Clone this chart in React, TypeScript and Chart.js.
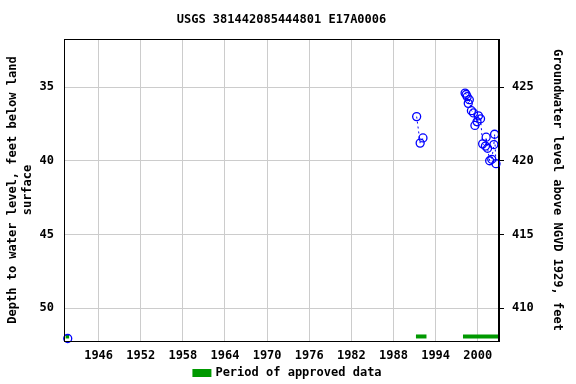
import React, { useEffect, useRef } from "react";
import { Chart, registerables } from "chart.js";
Chart.register(...registerables);

const TITLE = "USGS 381442085444801 E17A0006";
const LEFT_TITLE = ["Depth to water level, feet below land", "surface"];
const RIGHT_TITLE = "Groundwater level above NGVD 1929, feet";
const LEGEND_LABEL = "Period of approved data";

const X_MIN = 1941.07;
const X_MAX = 2003.03;
const Y_MIN = 31.73;
const Y_MAX = 52.24;
const DATUM = 460;

const xTicks = [1946, 1952, 1958, 1964, 1970, 1976, 1982, 1988, 1994, 2000];
const yTicks = [35, 40, 45, 50];
const y2Ticks = [410, 415, 420, 425];

const obsYears = [
  1941.6,
  1991.3, 1991.8, 1992.2,
  1998.2, 1998.35, 1998.5, 1998.65, 1998.8, 1999.1, 1999.4, 1999.6, 1999.9, 2000.1,
  2000.4, 2000.7, 2001.1, 2001.2, 2001.4, 2001.7, 2002.0, 2002.3, 2002.4, 2002.6,
];
const obsDepths = [
  52.07,
  37.0, 38.8, 38.45,
  35.4, 35.5, 35.65, 36.1, 35.85, 36.6, 36.75, 37.6, 37.35, 36.95,
  37.15, 38.85, 39.0, 38.4, 39.15, 40.0, 39.9, 38.9, 38.2, 40.2,
];
const obsGroup = [
  0,
  1, 1, 1,
  2, 2, 2, 2, 2, 2, 2, 2, 2, 2,
  2, 2, 2, 2, 2, 2, 2, 2, 2, 2,
];

const approvedStart = [1941.3, 1991.2, 1997.9];
const approvedEnd = [1941.8, 1992.7, 2003.0];

const FONT = "'DejaVu Sans Mono', monospace";

export default function App() {
  const ref = useRef<HTMLCanvasElement>(null);
  useEffect(() => {
    document.body.style.margin = "0";
    const canvas = ref.current;
    if (!canvas) return;

    const obsData: any[] = [];
    for (let i = 0; i < obsYears.length; i++) {
      if (i > 0 && obsGroup[i] !== obsGroup[i - 1]) {
        obsData.push({ x: (obsYears[i] + obsYears[i - 1]) / 2, y: null });
      }
      obsData.push({ x: obsYears[i], y: obsDepths[i] });
    }

    const approvedSets = approvedStart.map((s, i) => ({
      label: LEGEND_LABEL,
      data: [
        { x: s, y: 1.5 },
        { x: approvedEnd[i], y: 1.5 },
      ],
      yAxisID: "yApp",
      borderColor: "#009900",
      backgroundColor: "#009900",
      borderWidth: 4,
      pointRadius: 0,
      borderCapStyle: "butt" as const,
      order: 2,
    }));

    const frame = {
      id: "frame",
      afterDraw(chart: any) {
        const { ctx, chartArea: a } = chart;
        ctx.save();
        ctx.strokeStyle = "#000";
        ctx.lineWidth = 1;
        ctx.strokeRect(a.left + 0.5, a.top + 0.5, a.right - a.left - 1, a.bottom - a.top);
        ctx.fillStyle = "#000";
        ctx.font = `bold 12px ${FONT}`;
        ctx.textAlign = "center";
        ctx.textBaseline = "middle";
        ctx.fillText(TITLE, (a.left + a.right) / 2, 20);
        ctx.restore();
      },
    };

    const chart = new Chart(canvas, {
      type: "line",
      data: {
        datasets: [
          {
            label: "obs",
            data: obsData,
            yAxisID: "y",
            borderColor: "#0000ff",
            backgroundColor: "rgba(0,0,0,0)",
            borderWidth: 1,
            borderDash: [2, 3],
            pointRadius: 4,
            pointBorderColor: "#0000ff",
            pointBackgroundColor: "rgba(0,0,0,0)",
            pointBorderWidth: 1.3,
            spanGaps: false,
            clip: 6,
            order: 1,
          } as any,
          ...approvedSets,
        ],
      },
      options: {
        responsive: false,
        animation: false,
        layout: { padding: { top: 39, left: 0, right: 0, bottom: -5 } },
        plugins: {
          title: { display: false },
          tooltip: { enabled: false },
          legend: {
            display: true,
            position: "bottom",
            labels: {
              filter: (item: any) => item.datasetIndex === 1,
              boxWidth: 15,
              boxHeight: 4,
              padding: 4,
              color: "#000",
              font: { family: FONT, size: 12, weight: "bold" },
            },
          },
        },
        scales: {
          x: {
            type: "linear",
            min: X_MIN,
            max: X_MAX,
            afterBuildTicks: (s: any) => {
              s.ticks = xTicks.map((v) => ({ value: v }));
            },
            afterFit: (s: any) => {
              s.height = 22;
            },
            grid: { color: "#cccccc", drawTicks: false },
            border: { color: "#000", width: 1 },
            ticks: {
              color: "#000",
              padding: 8,
              autoSkip: false,
              maxRotation: 0,
              font: { family: FONT, size: 12, weight: "bold" },
              callback: (v: any) => String(v),
            },
          },
          y: {
            type: "linear",
            position: "left",
            reverse: true,
            min: Y_MIN,
            max: Y_MAX,
            afterBuildTicks: (s: any) => {
              s.ticks = yTicks.map((v) => ({ value: v }));
            },
            afterFit: (s: any) => {
              s.width = 64;
            },
            grid: { color: "#cccccc", drawTicks: false },
            border: { color: "#000", width: 1 },
            ticks: {
              color: "#000",
              padding: 10,
              font: { family: FONT, size: 12, weight: "bold" },
              callback: (v: any) => String(v),
            },
            title: {
              display: true,
              text: LEFT_TITLE,
              color: "#000",
              padding: { top: 6, bottom: 0 },
              font: { family: FONT, size: 12, weight: "bold" },
            },
          },
          y2: {
            type: "linear",
            position: "right",
            min: DATUM - Y_MAX,
            max: DATUM - Y_MIN,
            afterBuildTicks: (s: any) => {
              s.ticks = y2Ticks.map((v) => ({ value: v }));
            },
            afterFit: (s: any) => {
              s.width = 77;
            },
            grid: { drawOnChartArea: false, drawTicks: true, tickLength: 5, color: "#000" },
            border: { color: "#000", width: 1 },
            ticks: {
              color: "#000",
              padding: 8,
              font: { family: FONT, size: 12, weight: "bold" },
              callback: (v: any) => String(v),
            },
            title: {
              display: true,
              text: RIGHT_TITLE,
              color: "#000",
              padding: { top: 12, bottom: 0 },
              font: { family: FONT, size: 12, weight: "bold" },
            },
          },
          yApp: { display: false, min: 0, max: 100 },
        },
      } as any,
      plugins: [frame],
    });
    return () => chart.destroy();
  }, []);
  return <canvas ref={ref} width={576} height={384} style={{ display: "block" }} />;
}
